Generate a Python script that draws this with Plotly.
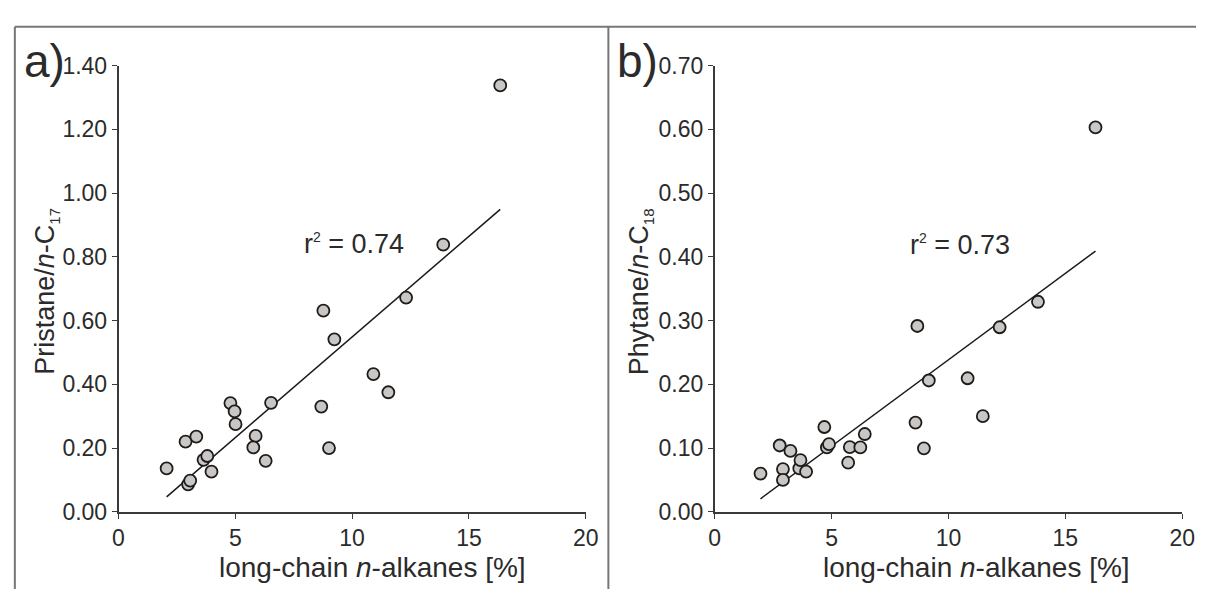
import numpy as np
import plotly.graph_objects as go

# ---- data ----
alkanes_a = [2.06, 2.87, 3.33, 3.64, 3.80, 3.98, 2.98, 3.07, 4.79, 4.97, 5.01, 5.87,
             5.77, 6.30, 6.53, 8.68, 9.01, 8.77, 9.24, 10.91, 11.55, 12.31, 13.90, 16.34]
pristane_c17 = [0.136, 0.220, 0.236, 0.163, 0.175, 0.126, 0.086, 0.098, 0.341, 0.315, 0.275, 0.238,
                0.202, 0.160, 0.342, 0.330, 0.200, 0.631, 0.541, 0.432, 0.375, 0.672, 0.838, 1.338]

alkanes_b = [1.96, 2.78, 3.24, 2.92, 2.92, 3.62, 3.67, 3.91, 4.69, 4.80, 4.89, 5.78,
             5.71, 6.23, 6.42, 8.59, 8.95, 8.67, 9.16, 10.82, 11.47, 12.19, 13.83, 16.29]
phytane_c18 = [0.060, 0.104, 0.0955, 0.067, 0.050, 0.068, 0.081, 0.063, 0.133, 0.101, 0.106, 0.1015,
               0.077, 0.101, 0.122, 0.140, 0.0995, 0.2915, 0.206, 0.2095, 0.150, 0.2895, 0.3295, 0.603]

r2_labels = ["0.74", "0.73"]
panel_labels = ["a)", "b)"]
x_title = "long-chain <i>n</i>-alkanes [%]"
y_titles = ["Pristane/<i>n</i>-C<sub><span style='font-size:15px'>17</span></sub>",
            "Phytane/<i>n</i>-C<sub><span style='font-size:15px'>18</span></sub>"]
x_ticks = [0, 5, 10, 15, 20]
y_ticks_a = [0.0, 0.2, 0.4, 0.6, 0.8, 1.0, 1.2, 1.4]
y_ticks_b = [0.0, 0.1, 0.2, 0.3, 0.4, 0.5, 0.6, 0.7]

FONT = "Liberation Sans, Arial, sans-serif"
TXT = "#2b2b2b"
AX = "#3a3a3a"
W, H = 1209, 602


def fit_line(x, y):
    x = np.asarray(x); y = np.asarray(y)
    m, c = np.polyfit(x, y, 1)
    xs = np.array([x.min(), x.max()])
    return xs, m * xs + c


fig = go.Figure()
for i, (xv, yv) in enumerate([(alkanes_a, pristane_c17), (alkanes_b, phytane_c18)]):
    xa = "x" if i == 0 else "x2"
    ya = "y" if i == 0 else "y2"
    lx, ly = fit_line(xv, yv)
    fig.add_trace(go.Scatter(x=lx, y=ly, mode="lines", xaxis=xa, yaxis=ya,
                             line=dict(color="#1a1a1a", width=1.5), showlegend=False,
                             hoverinfo="skip"))
    fig.add_trace(go.Scatter(x=xv, y=yv, mode="markers", xaxis=xa, yaxis=ya,
                             marker=dict(size=12, color="#c9c6c4",
                                         line=dict(color="#1c1c1c", width=1.8)),
                             showlegend=False))

px = lambda p: p / W
py = lambda p: (H - p) / H

axis_common = dict(showline=True, linecolor=AX, linewidth=1.5, ticks="outside",
                   ticklen=5, tickwidth=1.2, tickcolor=AX, showgrid=False, zeroline=False,
                   tickfont=dict(family=FONT, size=23, color=TXT), fixedrange=True)

ydom = [py(521.3), py(55)]
fig.update_layout(
    width=W, height=H, margin=dict(l=0, r=0, t=0, b=0),
    paper_bgcolor="white", plot_bgcolor="white",
    xaxis=dict(domain=[px(114.3), px(589)], range=[0, 20], tickvals=x_ticks,
               anchor="y", **axis_common),
    yaxis=dict(domain=ydom, range=[0, 1.4], tickvals=y_ticks_a, tickformat=".2f",
               anchor="x", **axis_common),
    xaxis2=dict(domain=[px(720), px(1195)], range=[0, 20], tickvals=x_ticks,
                anchor="y2", **axis_common),
    yaxis2=dict(domain=ydom, range=[0, 0.7], tickvals=y_ticks_b, tickformat=".2f",
                anchor="x2", **axis_common),
)

SUP2 = "r<sup><span style='font-size:14px'>2</span></sup> = "
annos = []
# r^2 labels
annos.append(dict(x=10.1, y=0.839, xref="x", yref="y", text=SUP2 + r2_labels[0],
                  showarrow=False, font=dict(family=FONT, size=27, color=TXT)))
annos.append(dict(x=10.48, y=0.419, xref="x2", yref="y2", text=SUP2 + r2_labels[1],
                  showarrow=False, font=dict(family=FONT, size=27, color=TXT)))
# x titles
for cx in (372, 986.5):
    annos.append(dict(x=px(cx), y=py(580), xref="paper", yref="paper", text=x_title,
                      showarrow=False, xanchor="center", yanchor="middle",
                      font=dict(family=FONT, size=28, color=TXT)))
# y titles
for cx, t in zip((41, 645), y_titles):
    annos.append(dict(x=px(cx), y=py(291), xref="paper", yref="paper", text=t,
                      textangle=-90, showarrow=False, xanchor="center", yanchor="middle",
                      font=dict(family=FONT, size=27, color=TXT)))
# panel labels
for lx, t in zip((16, 619), panel_labels):
    annos.append(dict(x=px(lx), y=py(50), xref="paper", yref="paper", text=t,
                      showarrow=False, xanchor="left", yanchor="middle",
                      font=dict(family=FONT, size=46, color=TXT)))
fig.update_layout(annotations=annos)

# frame lines
frame = dict(type="line", xref="paper", yref="paper", line=dict(color="#777777", width=2))
fig.update_layout(shapes=[
    dict(frame, x0=px(9), x1=1.0, y0=py(14.5), y1=py(14.5)),
    dict(frame, x0=px(9), x1=px(9), y0=py(14.5), y1=0),
    dict(frame, x0=px(612), x1=px(612), y0=py(14.5), y1=0),
])

fig.write_html("out.html", config={"displayModeBar": False},
               post_script="document.body.style.margin='0';"
                           "document.body.style.overflow='hidden';")
